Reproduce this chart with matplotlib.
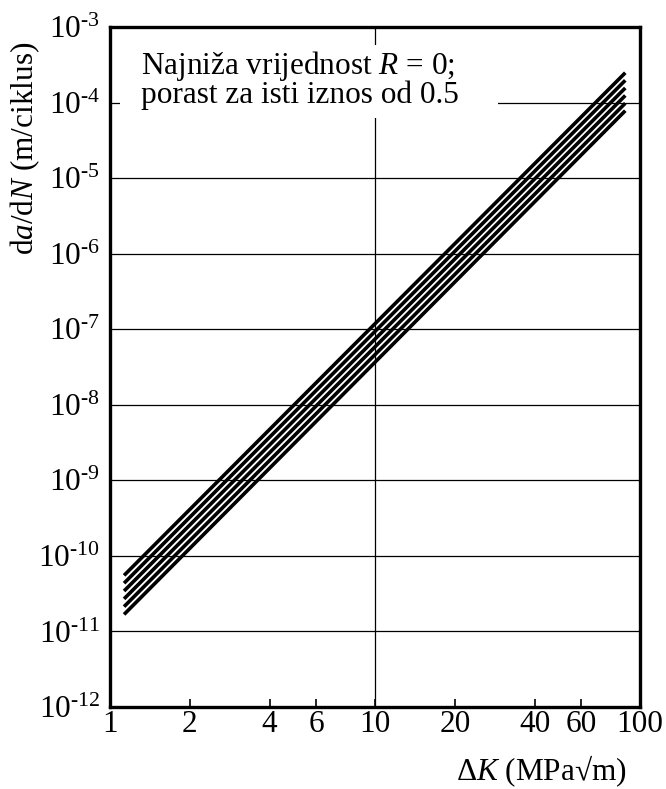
import matplotlib
matplotlib.use("Agg")
import matplotlib.pyplot as plt
from matplotlib.patches import Rectangle

# ---- data ----
dK = [1.13, 88.0]                       # ΔK range of each line (MPa√m)
rate_R0 = [1.68e-11, 7.8e-5]
rate_R1 = [2.13e-11, 9.8e-5]
rate_R2 = [2.70e-11, 1.24e-4]
rate_R3 = [3.43e-11, 1.56e-4]
rate_R4 = [4.35e-11, 1.97e-4]
rate_R5 = [5.52e-11, 2.48e-4]
series = [rate_R0, rate_R1, rate_R2, rate_R3, rate_R4, rate_R5]

x_ticks = [1, 2, 4, 6, 10, 20, 40, 60, 100]
x_tick_labels = ["1", "2", "4", "6", "10", "20", "40", "60", "100"]
y_exponents = [-12, -11, -10, -9, -8, -7, -6, -5, -4, -3]

plt.rcParams['font.family'] = ['Liberation Serif', 'DejaVu Serif']
plt.rcParams['mathtext.fontset'] = 'custom'
plt.rcParams['mathtext.rm'] = 'Liberation Serif'
plt.rcParams['mathtext.it'] = 'Liberation Serif:italic'
plt.rcParams['mathtext.bf'] = 'Liberation Serif:bold'

FS = 22.5
W, H = 666, 789
fig = plt.figure(figsize=(W / 100, H / 100), dpi=100)
ax = fig.add_axes([110 / W, 1 - 707 / H, 530 / W, 680 / H])
ax.set_xscale('log')
ax.set_yscale('log')
ax.set_xlim(1, 100)
ax.set_ylim(1e-12, 1e-3)

# grid lines
for e in y_exponents[1:-1]:
    ax.axhline(10.0 ** e, color='black', lw=0.9, zorder=1)
ax.axvline(10, color='black', lw=0.9, zorder=1)

# white box behind the note
ax.add_patch(Rectangle((10 / 530, 1 - 91 / 680), 378 / 530, 73 / 680,
                       transform=ax.transAxes, facecolor='white',
                       edgecolor='none', zorder=2))

for s in series:
    ax.plot(dK, s, color='black', lw=2.6, solid_capstyle='butt', zorder=3)

ax.set_xticks(x_ticks)
ax.set_xticklabels(x_tick_labels)
ax.xaxis.set_minor_locator(matplotlib.ticker.NullLocator())
ax.set_yticks([10.0 ** e for e in y_exponents])
ax.set_yticklabels([r"$\mathregular{10^{‐%d}}$" % (-e) for e in y_exponents])
ax.yaxis.set_minor_locator(matplotlib.ticker.NullLocator())

ax.tick_params(axis='x', direction='in', length=6, width=1.2, labelsize=FS, pad=2)
ax.tick_params(axis='y', direction='in', length=0, labelsize=FS, pad=7)

for sp in ax.spines.values():
    sp.set_linewidth(2.4)
    sp.set_zorder(5)

fig.text(141 / W, 1 - 74 / H, r"Najniža vrijednost $R$ = 0;", fontsize=FS,
         ha='left', va='baseline', zorder=6)
fig.text(141 / W, 1 - 103 / H, "porast za isti iznos od 0.5", fontsize=FS,
         ha='left', va='baseline', zorder=6)

fig.text(25 / W, 1 - 148 / H, r"d$a$/d$N$ (m/ciklus)", fontsize=FS,
         rotation=90, ha='center', va='center')
fig.text(627 / W, 1 - 780 / H, r"Δ$K$ (MPa√m)", fontsize=FS,
         ha='right', va='baseline')

fig.savefig("out.png", dpi=100)
